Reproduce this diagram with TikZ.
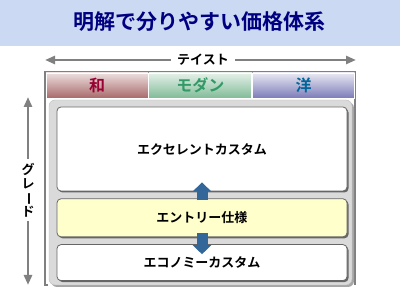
\documentclass[tikz,border=0pt]{standalone}
\usepackage{fontspec}
\usepackage{xcolor}
\usepackage{graphicx}
\usepackage{tikz}
\usetikzlibrary{arrows.meta, positioning, shadows}
\newfontfamily\jp{Noto Sans CJK JP Bold}
\definecolor{bandblue}{RGB}{204,217,242}
\definecolor{titlenavy}{RGB}{0,0,128}
\definecolor{wared}{RGB}{153,0,51}
\definecolor{watop}{RGB}{236,222,222}
\definecolor{wabot}{RGB}{168,106,106}
\definecolor{modgreen}{RGB}{51,153,102}
\definecolor{modtop}{RGB}{228,240,232}
\definecolor{modbot}{RGB}{128,188,152}
\definecolor{youblue}{RGB}{0,102,153}
\definecolor{youtop}{RGB}{232,232,242}
\definecolor{youbot}{RGB}{124,124,184}
\definecolor{steel}{RGB}{51,102,153}
\definecolor{creamy}{RGB}{255,255,204}
\definecolor{panelgray}{RGB}{218,218,218}
\tikzset{
  header/.style={
    rectangle, minimum height=25pt, inner sep=0pt, draw=white,
    font=\jp\fontsize{16}{16}\selectfont, line width=0.8pt
  },
  gradebox/.style={
    rectangle, rounded corners=4pt, draw=gray!80!black, fill=white,
    minimum width=290pt, font=\jp\fontsize{13}{13}\selectfont,
    inner sep=2pt, align=center, line width=0.8pt,
    general shadow={shadow xshift=1.5pt, shadow yshift=-1.5pt, fill=black!60}
  },
  axisarrow/.style={-{Triangle[width=8pt,length=10pt]}, line width=2.5pt, draw=gray},
  steparrow/.style={-{Triangle[width=18pt,length=9pt]}, line width=11pt, draw=steel},
}
\begin{document}
\begin{tikzpicture}[x=1pt, y=-1pt, node distance=7pt]
  \useasboundingbox (0,0) rectangle (400,288);
  % title band
  \fill[bandblue] (0,0) rectangle (400,46);
  \node[font=\jp\fontsize{21}{21}\selectfont, text=titlenavy] (title) at (200,22) {明解で分りやすい価格体系};

  % taste axis
  \node[font=\jp\fontsize{13}{13}\selectfont, inner sep=6pt] (taste) at (203,60) {テイスト};
  \coordinate (tasteL) at (45,60);
  \coordinate (tasteR) at (356,60);
  \draw[axisarrow] (taste.west) -- (tasteL);
  \draw[axisarrow] (taste.east) -- (tasteR);

  % grade axis
  \node[font=\jp\fontsize{13}{14}\selectfont, align=center, inner sep=4pt] (grade) at (28,190)
    {グ\\レ\\\rotatebox[origin=c]{-90}{ー}\\ド};
  \coordinate (gradeT) at (28,97);
  \coordinate (gradeB) at (28,285);
  \draw[axisarrow] (grade.north) -- (gradeT);
  \draw[axisarrow] (grade.south) -- (gradeB);

  % frame
  \draw[gray, line width=1.5pt] (48,285) -- (45,285) -- (45,72) -- (355,72) -- (355,285);

  % taste headers
  \node[header, minimum width=102pt, top color=watop, bottom color=wabot, text=wared] (wa) at (97,85.5) {和};
  \node[header, minimum width=103pt, top color=modtop, bottom color=modbot, text=modgreen, right=0pt of wa] (modern) {モダン};
  \node[header, minimum width=102pt, top color=youtop, bottom color=youbot, text=youblue, right=0pt of modern] (you) {洋};

  % grade panel
  \fill[gray!70, rounded corners=6pt] (51,102) rectangle (354,287);
  \filldraw[fill=panelgray, draw=gray!50, rounded corners=6pt] (49,100) rectangle (352,285);

  \node[gradebox, minimum height=84pt] (excel) at (202,149) {エクセレントカスタム};
  \node[gradebox, minimum height=38pt, fill=creamy, below=of excel] (entry) {エントリー仕様};
  \node[gradebox, minimum height=36pt, below=of entry] (econ) {エコノミーカスタム};

  \draw[steparrow] ([yshift=-2pt]entry.north) -- ([yshift=9pt]excel.south);
  \draw[steparrow] ([yshift=4pt]entry.south) -- ([yshift=-10pt]econ.north);
\end{tikzpicture}
\end{document}
